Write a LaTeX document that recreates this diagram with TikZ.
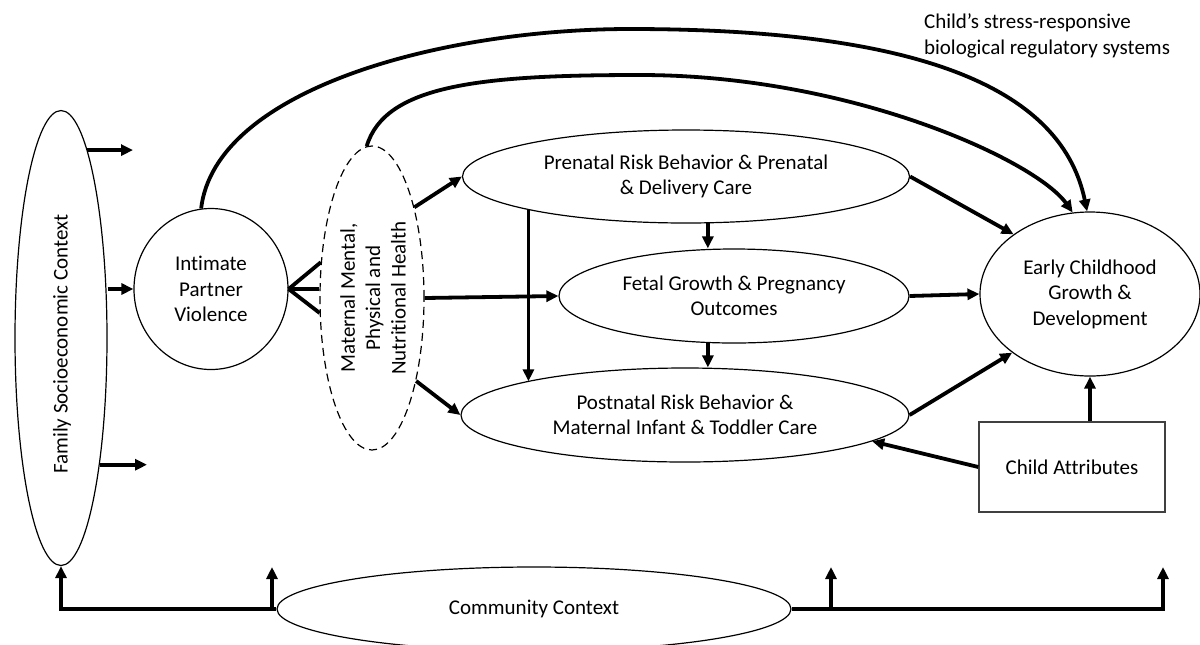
\documentclass[tikz,border=0pt]{standalone}
\usepackage{fontspec}
\setmainfont{Carlito}[Ligatures=NoCommon]
\usetikzlibrary{arrows.meta,shapes.geometric}
\begin{document}
\begin{tikzpicture}[x=0.5pt,y=-0.5pt,
  every node/.style={font=\fontsize{10.5}{12.7}\selectfont, text=black},
  oval/.style={draw, ellipse, line width=0.6pt, inner sep=0pt, align=center},
  conn/.style={line width=1.9pt},
  arr/.style={conn, -{Triangle[length=6pt,width=5.5pt]}},
]
\useasboundingbox (0,0) rectangle (1200,644);

% ---- constructs ----
\node[oval, minimum width=46pt, minimum height=227.5pt] (ses) at (61,338) {};
\node[rotate=90] (sesl) at (62,344) {Family Socioeconomic Context};
\node[oval, minimum width=77pt, minimum height=80.5pt] (ipv) at (211,289) {Intimate\\Partner\\Violence};
\node[oval, dash pattern=on 4pt off 2.5pt, minimum width=52pt, minimum height=152pt] (mh) at (372,298) {};
\node[rotate=90, align=center] (mhl) at (373,298) {Maternal Mental,\\Physical and\\Nutritional Health};
\node[oval, minimum width=223.5pt, minimum height=46.5pt] (pre) at (686,176.5) {Prenatal Risk Behavior \& Prenatal\\\& Delivery Care};
\node[oval, minimum width=175pt, minimum height=47pt] (fet) at (734,296) {Fetal Growth \& Pregnancy\\Outcomes};
\node[oval, minimum width=224pt, minimum height=47pt] (post) at (685,415) {Postnatal Risk Behavior \&\\Maternal Infant \& Toddler Care};
\node[oval, minimum width=110pt, minimum height=82pt] (ecgd) at (1090,294) {Early Childhood\\Growth \&\\Development};
\node[draw=black!75, line width=0.7pt, minimum width=93pt, minimum height=45pt, inner sep=0pt] (ca) at (1072,467) {Child Attributes};
\node[oval, minimum width=257pt, minimum height=42pt] (cc) at (534,609) {Community Context};
\node[anchor=west, align=left] (stress) at (917,36) {Child’s stress-responsive\\biological regulatory systems};

% ---- family context ----
\coordinate (f1) at (133,147);
\coordinate (f3) at (147,463);
\draw[arr] (ses.82.5) -- (f1 |- ses.82.5);
\draw[arr] (ipv.west -| ses.east) -- (ipv.west);
\draw[arr] (ses.-73) -- (f3 |- ses.-73);

% ---- partner violence to maternal health ----
\draw[conn] (ipv.east) -- (ipv.east -| mh.west);
\draw[conn] (ipv.east) -- (mh.145);
\draw[conn] (ipv.east) -- (mh.196);

% ---- maternal health pathways ----
\draw[arr] (mh.65) -- (pre.west);
\draw[arr] (mh.east) -- (fet.west);
\draw[arr] (mh.-62) -- (post.west);
\draw[arr] (pre.-65) -- (pre.-65 |- fet.north);
\draw[arr] (fet.-119) -- (fet.-119 |- post.north);
\draw[arr] (pre.192) -- (pre.192 |- post.168);

% ---- to early childhood outcomes ----
\draw[arr] (pre.east) -- (ecgd.142);
\draw[arr] (fet.east) -- (ecgd.west);
\draw[arr] (post.east) -- (ecgd.217);
\draw[arr] (ca.west) -- (post.-8);
\draw[arr] (ecgd.south |- ca.north) -- (ecgd.south);

% ---- stress-responsive regulatory paths ----
\draw[arr] (ipv.97) .. controls (215,90) and (440,29) .. (630,29)
  .. controls (900,29) and (1060,80) .. (ecgd.92);
\draw[arr] (mh.92) .. controls (385,85) and (480,75) .. (640,75)
  .. controls (850,75) and (1035,160) .. (ecgd.102);

% ---- community context ----
\coordinate (c1) at (272,567);
\coordinate (c2) at (831,567);
\coordinate (c3) at (1163,567);
\draw[arr] (cc.west) -| (ses.south);
\draw[arr] (c1 |- cc.west) -- (c1);
\draw[arr] (cc.east) -| (c3);
\draw[arr] (c2 |- cc.east) -- (c2);
\end{tikzpicture}
\end{document}
